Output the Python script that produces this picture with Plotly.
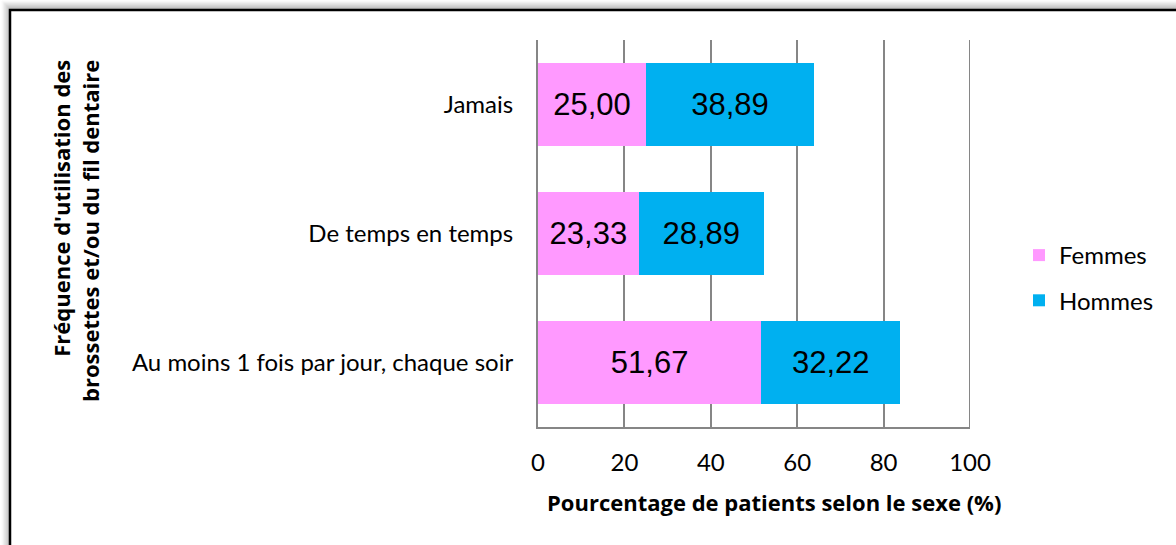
import plotly.graph_objects as go

categories = ["Jamais", "De temps en temps", "Au moins 1 fois par jour, chaque soir"]
femmes = [25.00, 23.33, 51.67]
hommes = [38.89, 28.89, 32.22]
x_ticks = [0, 20, 40, 60, 80, 100]

PINK = "#FF99FF"
BLUE = "#00B0F0"
GRID = "#868686"
LABEL_FONT = "Lato"

L, R, T, B = 538, 970, 40, 427
W, H = 1176, 545

def px(x):
    return (x - L) / (R - L)

def py(y):
    return (B - y) / (B - T)

fig = go.Figure()
fig.add_trace(go.Bar(
    y=categories, x=femmes, orientation="h", name="Femmes",
    marker=dict(color=PINK, line=dict(width=0)),
    texttemplate="%{x:.2f}", textposition="inside", insidetextanchor="middle",
    textfont=dict(family="Liberation Sans", size=31, color="black"),
    legendgroup="f",
))
fig.add_trace(go.Bar(
    y=categories, x=hommes, orientation="h", name="Hommes",
    marker=dict(color=BLUE, line=dict(width=0)),
    texttemplate="%{x:.2f}", textposition="inside", insidetextanchor="middle",
    textfont=dict(family="Liberation Sans", size=31, color="black"),
    legendgroup="h",
))

shapes = []
# shadow of frame
for i in range(9):
    g = int(160 + i * 11)
    col = f"rgb({g},{g},{g})"
    shapes.append(dict(type="line", xref="paper", yref="paper",
                       x0=px(10 - i), x1=px(1190), y0=py(9 - i), y1=py(9 - i),
                       line=dict(color=col, width=1)))
    shapes.append(dict(type="line", xref="paper", yref="paper",
                       x0=px(10 - i), x1=px(10 - i), y0=py(9 - i), y1=py(560),
                       line=dict(color=col, width=1)))
shapes.append(dict(type="rect", xref="paper", yref="paper",
                   x0=px(10), x1=px(1190), y0=py(10), y1=py(560),
                   line=dict(color="black", width=2.5), fillcolor="rgba(0,0,0,0)"))
# gridline at the end of the range
shapes.append(dict(type="line", xref="x", yref="paper", x0=x_ticks[-1], x1=x_ticks[-1],
                   y0=0, y1=1, line=dict(color=GRID, width=2), layer="below"))

fig.update_layout(
    width=W, height=H,
    margin=dict(l=L, r=W - R, t=T, b=H - B, pad=0, autoexpand=False),
    paper_bgcolor="white", plot_bgcolor="white",
    barmode="stack", bargap=0.35,
    separators=", ",
    font=dict(family=LABEL_FONT, color="black"),
    shapes=shapes,
    showlegend=True,
    legend=dict(x=px(1019), y=py(233), xanchor="left", yanchor="top",
                font=dict(family=LABEL_FONT, size=24, color="black"),
                traceorder="grouped", tracegroupgap=11, itemwidth=30,
                bgcolor="rgba(0,0,0,0)"),
    xaxis=dict(range=[0, 100], tickvals=x_ticks, showgrid=True, gridcolor=GRID, gridwidth=2,
               showline=True, linecolor=GRID, linewidth=2, zeroline=False,
               ticks="", tickfont=dict(family=LABEL_FONT, size=24, color="black"),
               ticklabelstandoff=13),
    yaxis=dict(autorange="reversed", showgrid=False, showline=True, linecolor=GRID, linewidth=2,
               ticks="", tickfont=dict(family=LABEL_FONT, size=24, color="black"),
               ticklabelstandoff=18),
    annotations=[
        dict(text="<b>Pourcentage de patients selon le sexe (%)</b>", xref="paper", yref="paper",
             x=px(774), y=py(502), xanchor="center", yanchor="middle", showarrow=False,
             font=dict(family="Open Sans", size=22, color="black")),
        dict(text="<b>Fréquence d'utilisation des<br>brossettes et/ou du fil dentaire</b>",
             xref="paper", yref="paper", x=px(75), y=py(231), xanchor="center", yanchor="middle",
             textangle=-90, showarrow=False, align="right",
             font=dict(family="Open Sans", size=22, color="black")),
    ],
)

fig.write_html("out.html", config={"displayModeBar": False},
               post_script="document.body.style.margin='0';document.body.style.overflow='hidden';")
